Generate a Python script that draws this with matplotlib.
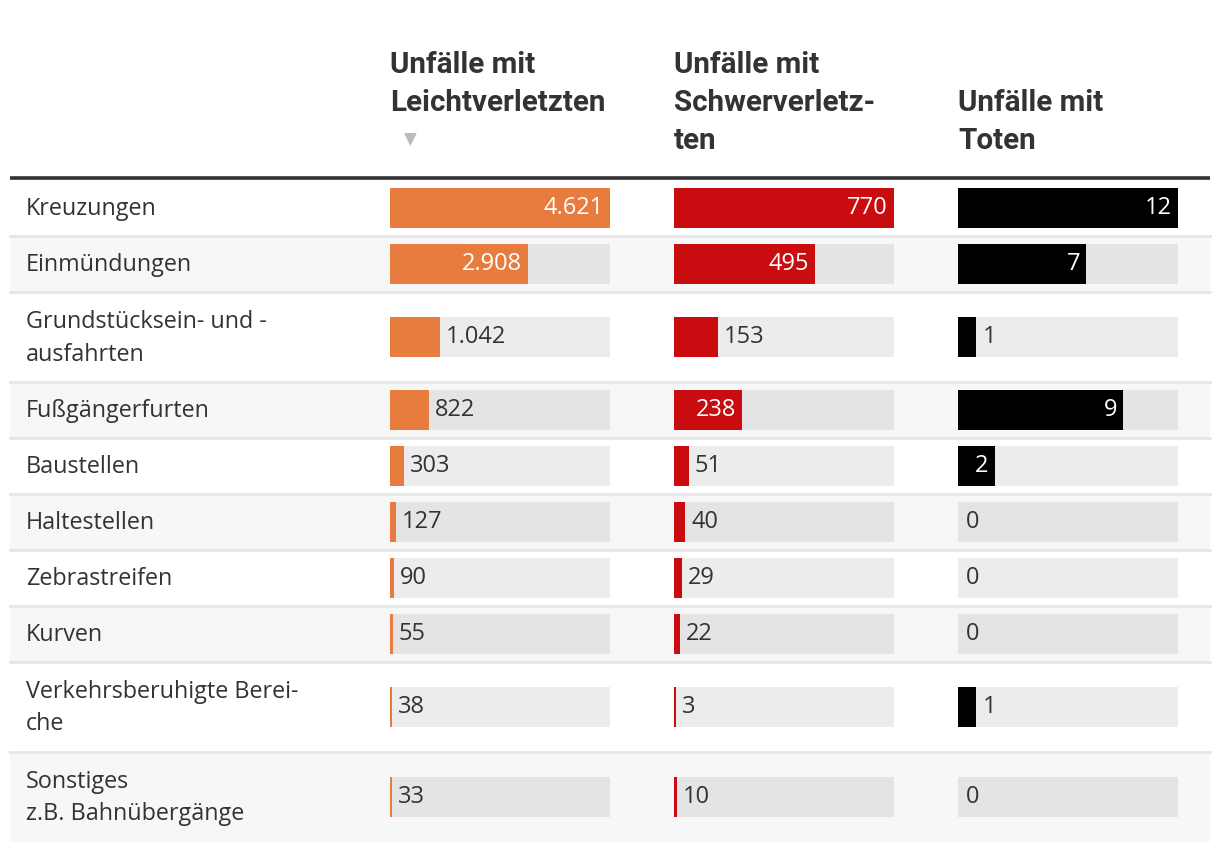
import matplotlib
matplotlib.use("Agg")
import matplotlib.pyplot as plt
from matplotlib.patches import Rectangle

# ---------------- data ----------------
categories = [
    "Kreuzungen",
    "Einmündungen",
    "Grundstücksein- und -\nausfahrten",
    "Fußgängerfurten",
    "Baustellen",
    "Haltestellen",
    "Zebrastreifen",
    "Kurven",
    "Verkehrsberuhigte Berei-\nche",
    "Sonstiges\nz.B. Bahnübergänge",
]
leicht = [4621, 2908, 1042, 822, 303, 127, 90, 55, 38, 33]
schwer = [770, 495, 153, 238, 51, 40, 29, 22, 3, 10]
tote = [12, 7, 1, 9, 2, 0, 0, 0, 1, 0]
headers = [["Unfälle mit", "Leichtverletzten"],
           ["Unfälle mit", "Schwerverletz-", "ten"],
           ["Unfälle mit", "Toten"]]

# ---------------- style ----------------
W, H = 1220, 850
fig = plt.figure(figsize=(W / 100, H / 100), dpi=100)
ax = fig.add_axes([0, 0, 1, 1])
ax.set_xlim(0, W)
ax.set_ylim(H, 0)
ax.axis("off")

BODY = ["Open Sans", "DejaVu Sans"]
HEAD = ["Roboto", "DejaVu Sans"]
TXT = "#333333"
colors = ["#e87c3e", "#c90c10", "#000000"]
col_x = [390, 674, 958]
bar_w = 220
bar_h = 40
left, right = 10, 1210
top = 180
head_lines_y = {0: [65, 103], 1: [65, 103, 141], 2: [103, 141]}

def fmt(v):
    return f"{v:,}".replace(",", ".")

row_h = [56 if "\n" not in c else 90 for c in categories]

# header
for j, (hx, lines) in enumerate(zip(col_x, headers)):
    for ly, line in zip(head_lines_y[j], lines):
        ax.text(hx, ly, line, ha="left", va="center", fontsize=21.3, fontweight="bold",
                family=HEAD, color=TXT)
ax.text(col_x[0] + 20, 140, "\u25BC", ha="center", va="center", fontsize=12,
        color="#bbbbbb", family=["DejaVu Sans"])

ax.plot([left, right], [178, 178], color="#333333", lw=2.6, solid_capstyle="butt", zorder=5)

fig.canvas.draw()
renderer = fig.canvas.get_renderer()

y = top
series = [leicht, schwer, tote]
for i, cat in enumerate(categories):
    h = row_h[i]
    bg = "#ffffff" if i % 2 == 0 else "#f7f7f7"
    ax.add_patch(Rectangle((left, y), right - left, h, facecolor=bg, edgecolor="none", zorder=0))
    if i > 0:
        ax.plot([left, right], [y, y], color="#e6e6e6", lw=2, zorder=1)
    cy = y + h / 2
    ax.text(26, cy + 1, cat, ha="left", va="center", fontsize=16.8, family=BODY,
            color=TXT, linespacing=1.5)
    for j, vals in enumerate(series):
        x0 = col_x[j]
        mx = max(vals)
        ax.add_patch(Rectangle((x0, cy - bar_h / 2), bar_w, bar_h, facecolor="black",
                               alpha=0.075, edgecolor="none", zorder=2))
        bw = vals[i] / mx * bar_w
        if vals[i] > 0:
            ax.add_patch(Rectangle((x0, cy - bar_h / 2), max(bw, 2), bar_h,
                                   facecolor=colors[j], edgecolor="none", zorder=3))
        t = ax.text(0, cy, fmt(vals[i]), ha="left", va="center", fontsize=17,
                    family=BODY, color=TXT, zorder=4)
        tw = t.get_window_extent(renderer).width
        if bw > tw + 16:
            t.set_position((x0 + bw - 6, cy))
            t.set_ha("right")
            t.set_color("white")
        else:
            t.set_position((x0 + max(bw, 2) + 6, cy))
    y += h

fig.savefig("out.png", dpi=100, facecolor="white")
